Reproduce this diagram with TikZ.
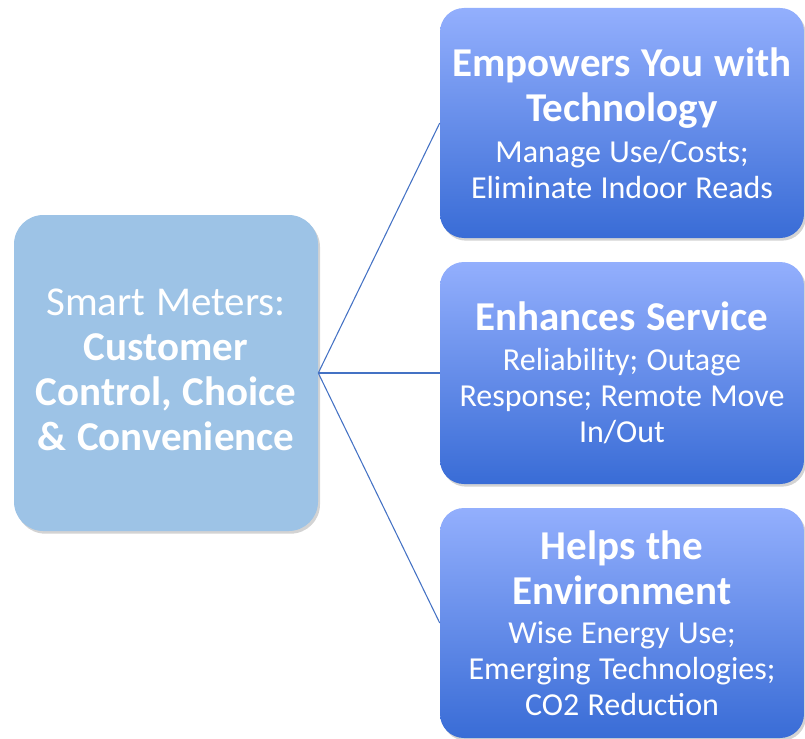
\documentclass[tikz,border=0pt]{standalone}
\usepackage{fontspec}
\setmainfont{Carlito}
\usetikzlibrary{shadows}

\definecolor{hubblue}{HTML}{9DC3E6}
\definecolor{leaftop}{HTML}{93AFFD}
\definecolor{leafbot}{HTML}{396CD6}
\definecolor{linkblue}{HTML}{4472C4}

\newcommand{\headfont}{\fontsize{30.75}{33.75}\selectfont\bfseries\spaceskip=0.26em\relax}
\newcommand{\bodyfont}{\fontsize{24}{27}\selectfont\mdseries\spaceskip=0.26em\relax}

\tikzset{
	boxshadow/.style={drop shadow={opacity=0.35, shadow xshift=1.5pt, shadow yshift=-2pt}},
	hub/.style={rounded corners=22pt, fill=hubblue, text=white, align=center,
		inner sep=0pt, text width=220pt, minimum width=228pt, minimum height=237pt, boxshadow},
	leaf/.style={rounded corners=18pt, top color=leaftop, bottom color=leafbot, text=white,
		align=center, inner sep=0pt, text width=268pt, minimum width=273pt, boxshadow},
	link/.style={draw=linkblue, line width=0.8pt}
}

\begin{document}
\begin{tikzpicture}[x=0.75pt,y=-0.75pt]
	\useasboundingbox (0,0) rectangle (805,738);
	
	% centre box
	\node[hub] (meters) at (166,373)
		{\headfont\mdseries Smart Meters:\par
		 \bfseries Customer\par Control, Choice\par \& Convenience\par\vspace{5pt}};
	
	% three benefits
	\node[leaf, minimum height=172.5pt] (tech) at (622,123)
		{\headfont Empowers You with\\ Technology\par\vspace{4pt}
		 \bodyfont Manage Use/Costs;\\ Eliminate Indoor Reads\par};
	\node[leaf, minimum height=166.5pt] (serv) at (622,373)
		{\headfont Enhances Service\par\vspace{3pt}
		 \bodyfont Reliability; Outage\\ Response; Remote Move\\ In/Out\par};
	\node[leaf, minimum height=172.5pt] (envi) at (622,623)
		{\headfont Helps the\\ Environment\par\vspace{2pt}
		 \bodyfont Wise Energy Use;\\ Emerging Technologies;\\ CO2 Reduction\par};
	
	\draw[link] (meters.east) -- (tech.west);
	\draw[link] (meters.east) -- (serv.west);
	\draw[link] (meters.east) -- (envi.west);
\end{tikzpicture}
\end{document}
